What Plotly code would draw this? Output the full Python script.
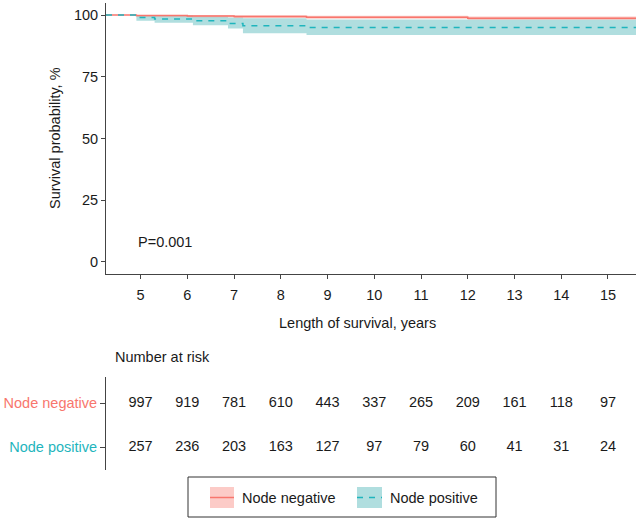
import plotly.graph_objects as go

# ---------------- data ----------------
# Node negative KM curve (percent)
neg_time = [4.26, 4.91, 6.0, 7.0, 8.55, 12.0, 15.6]
neg_surv = [100, 99.8, 99.6, 99.4, 99.1, 98.7, 98.7]
neg_low = [100, 99.4, 99.1, 98.8, 98.5, 98.1, 98.1]
neg_high = [100, 100, 100, 99.9, 99.7, 99.4, 99.4]

# Node positive KM curve (percent)
pos_time = [4.26, 4.91, 5.30, 6.12, 6.87, 7.19, 8.55, 15.6]
pos_surv = [100, 99.0, 98.4, 97.7, 96.6, 95.7, 95.0, 95.0]
pos_low = [100, 97.7, 96.9, 95.9, 94.6, 92.6, 91.9, 91.9]
pos_high = [100, 100, 99.8, 99.4, 99.0, 98.7, 98.2, 98.2]

# Number at risk
risk_years = [5, 6, 7, 8, 9, 10, 11, 12, 13, 14, 15]
risk_neg = [997, 919, 781, 610, 443, 337, 265, 209, 161, 118, 97]
risk_pos = [257, 236, 203, 163, 127, 97, 79, 60, 41, 31, 24]

groups = ["Node negative", "Node positive"]
y_ticks = [0, 25, 50, 75, 100]
x_ticks = [5, 6, 7, 8, 9, 10, 11, 12, 13, 14, 15]

# ---------------- style ----------------
W, H = 636, 524
ML = 106
RED = "#F8766D"
TEAL = "#1FB5BD"
RED_BAND = "rgba(248,118,109,0.38)"
TEAL_BAND = "rgba(30,161,163,0.35)"
AX = "#444444"
TXT = "#1a1a1a"
FONT = "Liberation Sans, Arial, Helvetica, sans-serif"
FS = 14.5
XR = [4.26, 15.6]


def px(x):
    return (x - ML) / (W - ML)


def py(y):
    return 1 - y / H


fig = go.Figure()

# confidence bands
for t, lo, hi, col in [(pos_time, pos_low, pos_high, TEAL_BAND),
                       (neg_time, neg_low, neg_high, RED_BAND)]:
    fig.add_trace(go.Scatter(x=t, y=hi, mode="lines", line=dict(width=0, shape="hv"),
                             showlegend=False, hoverinfo="skip", xaxis="x", yaxis="y"))
    fig.add_trace(go.Scatter(x=t, y=lo, mode="lines", line=dict(width=0, shape="hv"),
                             fill="tonexty", fillcolor=col, showlegend=False,
                             hoverinfo="skip", xaxis="x", yaxis="y"))

# survival lines
fig.add_trace(go.Scatter(x=neg_time, y=neg_surv, mode="lines", name=groups[0],
                         line=dict(color=RED, width=1.5, shape="hv"),
                         showlegend=False, xaxis="x", yaxis="y"))
fig.add_trace(go.Scatter(x=pos_time, y=pos_surv, mode="lines", name=groups[1],
                         line=dict(color=TEAL, width=1.5, shape="hv", dash="6px,6px"),
                         showlegend=False, xaxis="x", yaxis="y"))

# risk table
fig.add_trace(go.Scatter(x=risk_years, y=[1] * len(risk_years), mode="text",
                         text=[str(v) for v in risk_neg],
                         textfont=dict(family=FONT, size=FS, color=TXT),
                         showlegend=False, xaxis="x2", yaxis="y2"))
fig.add_trace(go.Scatter(x=risk_years, y=[0] * len(risk_years), mode="text",
                         text=[str(v) for v in risk_pos],
                         textfont=dict(family=FONT, size=FS, color=TXT),
                         showlegend=False, xaxis="x2", yaxis="y2"))

axis_common = dict(showline=True, linecolor=AX, linewidth=1, showgrid=False,
                   zeroline=False, ticks="outside", tickcolor=AX, ticklen=4,
                   automargin=False,
                   tickfont=dict(family=FONT, size=FS, color=TXT))

fig.update_layout(
    width=W, height=H,
    margin=dict(l=ML, r=0, t=0, b=0, pad=0),
    paper_bgcolor="white", plot_bgcolor="white",
    font=dict(family=FONT, size=FS, color=TXT),
    showlegend=False,
    xaxis=dict(axis_common, range=XR, tickvals=x_ticks, domain=[0, 1],
               anchor="y", ticklabelstandoff=4),
    yaxis=dict(axis_common, range=[-4.9, 104.9], tickvals=y_ticks,
               domain=[py(274), py(3)], anchor="x"),
    xaxis2=dict(showline=False, showgrid=False,
                zeroline=False, range=XR, showticklabels=False, ticks="",
                automargin=False, domain=[0, 1], anchor="y2"),
    yaxis2=dict(showline=True, linecolor=AX, linewidth=1, showgrid=False,
                zeroline=False, range=[-0.52, 1.59], ticks="outside",
                tickcolor=AX, ticklen=5, tickvals=[1, 0], automargin=False,
                ticktext=[f"<span style='color:{RED}'>{groups[0]}</span>",
                          f"<span style='color:{TEAL}'>{groups[1]}</span>"],
                tickfont=dict(family=FONT, size=FS),
                domain=[py(470), py(377)], anchor="x2"),
)

annotations = [
    dict(text="Survival probability, %", x=px(55), y=py(138), xref="paper", yref="paper",
         textangle=-90, showarrow=False, font=dict(family=FONT, size=FS, color=TXT),
         xanchor="center", yanchor="middle"),
    dict(text="Length of survival, years", x=px(357), y=py(323), xref="paper", yref="paper",
         showarrow=False, font=dict(family=FONT, size=FS, color=TXT),
         xanchor="center", yanchor="middle"),
    dict(text="Number at risk", x=px(113), y=py(357), xref="paper", yref="paper",
         showarrow=False, font=dict(family=FONT, size=FS, color=TXT),
         xanchor="left", yanchor="middle"),
    dict(text="P=0.001", x=4.91, y=8.1, xref="x", yref="y", showarrow=False,
         font=dict(family=FONT, size=FS, color=TXT), xanchor="left", yanchor="middle"),
    dict(text=groups[0], x=px(240), y=py(498), xref="paper", yref="paper",
         showarrow=False, font=dict(family=FONT, size=FS, color=TXT),
         xanchor="left", yanchor="middle"),
    dict(text=groups[1], x=px(388), y=py(498), xref="paper", yref="paper",
         showarrow=False, font=dict(family=FONT, size=FS, color=TXT),
         xanchor="left", yanchor="middle"),
]
fig.update_layout(annotations=annotations)

shapes = [
    # legend box
    dict(type="rect", xref="paper", yref="paper", x0=px(188), x1=px(496),
         y0=py(517), y1=py(477), line=dict(color="#333333", width=1), fillcolor="white"),
    # keys
    dict(type="rect", xref="paper", yref="paper", x0=px(210), x1=px(234),
         y0=py(508), y1=py(487), line=dict(width=0), fillcolor=RED_BAND),
    dict(type="line", xref="paper", yref="paper", x0=px(210), x1=px(234),
         y0=py(497.5), y1=py(497.5), line=dict(color=RED, width=1.5)),
    dict(type="rect", xref="paper", yref="paper", x0=px(357), x1=px(382),
         y0=py(508), y1=py(487), line=dict(width=0), fillcolor=TEAL_BAND),
    dict(type="line", xref="paper", yref="paper", x0=px(357), x1=px(382),
         y0=py(497.5), y1=py(497.5), line=dict(color=TEAL, width=1.5, dash="6px,6px")),
]
fig.update_layout(shapes=shapes)

fig.write_html("out.html", config={"displayModeBar": False},
               post_script="document.body.style.margin='0';")
